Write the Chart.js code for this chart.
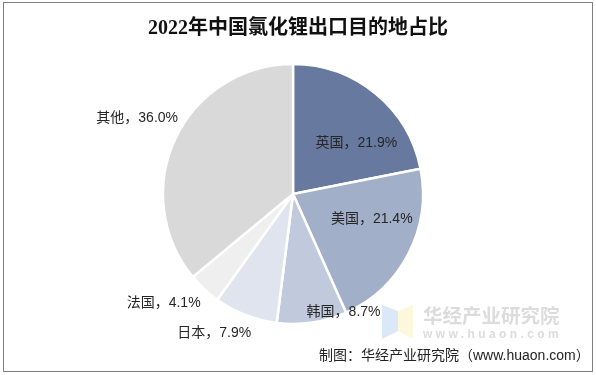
<!DOCTYPE html>
<html lang="zh">
<head>
<meta charset="utf-8">
<title>2022年中国氯化锂出口目的地占比</title>
<script src="https://cdn.jsdelivr.net/npm/chart.js@4/dist/chart.umd.min.js"></script>
<style>
  html, body { margin: 0; padding: 0; background: #fff; }
  #wrap { position: relative; width: 596px; height: 375px; overflow: hidden; font-family: "Liberation Sans", "Noto Sans CJK SC", sans-serif; }
  #frame { position: absolute; left: 3px; top: 2px; width: 588px; height: 368px; border: 1px solid #7f7f7f; pointer-events: none; }
  #chartTitle { position: absolute; left: 0; width: 596px; top: 15px; text-align: center; font: bold 20px/24px "Liberation Serif", "Noto Sans CJK SC", serif; color: #111; }
  #source { position: absolute; left: 319px; top: 345px; font-size: 14px; line-height: 20px; color: #222; white-space: nowrap; }
  .mark { position: absolute; color: #dcdcdc; font-weight: bold; white-space: nowrap; }
  #markName { left: 423px; top: 304px; font-size: 19.5px; line-height: 24px; }
  #markUrl { left: 423px; top: 327px; font-size: 12px; line-height: 14px; letter-spacing: 3.4px; }
  #logo { position: absolute; left: 382px; top: 305px; }
  canvas { position: absolute; left: 0; top: 0; }
</style>
</head>
<body>
<div id="wrap">
  <canvas id="chartPie" width="596" height="375"></canvas>
  <svg id="logo" width="32" height="35">
    <polygon points="0,0 16,6 16,26 0,34" fill="#dbe8f8"/>
    <polygon points="16,6 31,0 31,34 16,26" fill="#fdf7dc"/>
  </svg>
  <div class="mark" id="markName">华经产业研究院</div>
  <div class="mark" id="markUrl">www.huaon.com</div>
  <div id="chartTitle">2022年中国氯化锂出口目的地占比</div>
  <div id="source">制图：华经产业研究院（www.huaon.com）</div>
  <div id="frame"></div>
</div>
<script>
  const countries = ["英国", "美国", "韩国", "日本", "法国", "其他"];
  const shares = [21.9, 21.4, 8.7, 7.9, 4.1, 36.0];
  const sliceColors = ["#67799f", "#a2afc8", "#c1c9dc", "#dfe4ee", "#efefef", "#d9d9d9"];

  // label shift from the middle of each slice, in px
  const labelShift = [
    [22, -1],
    [21, -5],
    [41, 54],
    [-55, 79],
    [-85, 62],
    [-97, -48],
  ];

  const sliceLabels = {
    id: "sliceLabels",
    afterDatasetsDraw(chart) {
      const { ctx } = chart;
      ctx.save();
      ctx.font = '14px "Liberation Sans", "Noto Sans CJK SC", sans-serif';
      ctx.fillStyle = "#262626";
      ctx.textAlign = "center";
      ctx.textBaseline = "middle";
      chart.getDatasetMeta(0).data.forEach((arc, i) => {
        const p = arc.tooltipPosition();
        const text = countries[i] + "，" + shares[i].toFixed(1) + "%";
        ctx.fillText(text, p.x + labelShift[i][0], p.y + labelShift[i][1]);
      });
      ctx.restore();
    },
  };

  new Chart(document.getElementById("chartPie").getContext("2d"), {
    type: "pie",
    data: {
      labels: countries,
      datasets: [
        {
          data: shares,
          backgroundColor: sliceColors,
          borderColor: "#ffffff",
          borderWidth: 2.5,
          radius: 130,
        },
      ],
    },
    options: {
      responsive: false,
      animation: false,
      layout: { padding: { top: 13, right: 10 } },
      plugins: {
        legend: { display: false },
        tooltip: { enabled: false },
      },
    },
    plugins: [sliceLabels],
  });
</script>
</body>
</html>
